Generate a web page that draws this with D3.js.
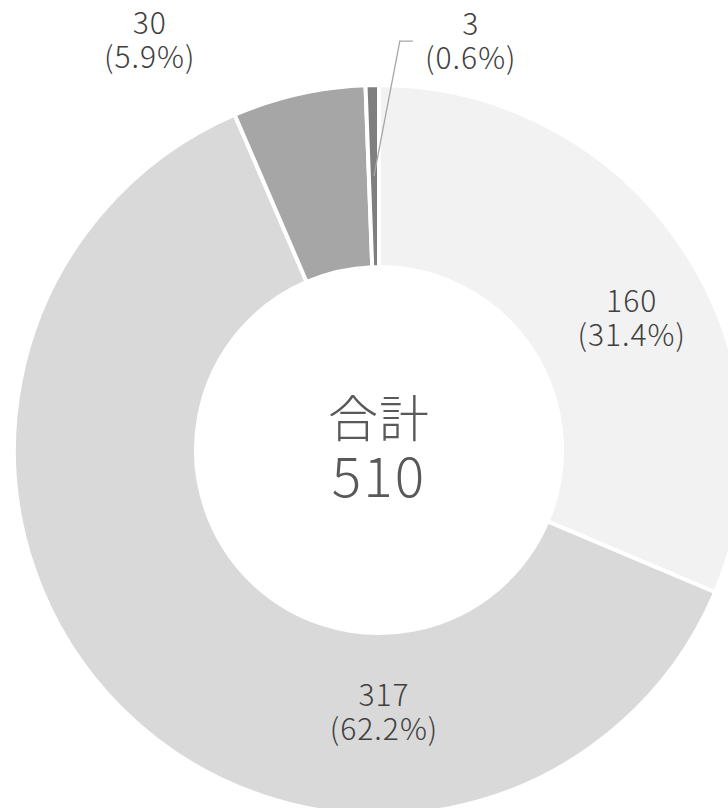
<!DOCTYPE html>
<html><head><meta charset="utf-8">
<script src="https://cdn.jsdelivr.net/npm/d3@7"></script>
<style>html,body{margin:0;padding:0;background:#fff;}svg{display:block;}</style>
</head><body>
<svg id="c" width="728" height="808"></svg>
<script>
const categories = ["A", "B", "C", "D"];
const values = [160, 317, 30, 3];
const colors = ["#f2f2f2", "#d9d9d9", "#a6a6a6", "#7f7f7f"];
const totalLabel = "合計";

const W = 728, H = 808;
const cx = 379, cy = 450;
const outerR = 365, innerR = 183;
const font = "'Noto Sans CJK JP', 'Noto Sans', sans-serif";
const labelColor = "#404040";
const centerColor = "#595959";

const total = d3.sum(values);
const svg = d3.select("#c");
const g = svg.append("g").attr("transform", `translate(${cx},${cy})`);

const pie = d3.pie().sort(null).value(d => d)(values);
const arc = d3.arc().innerRadius(innerR).outerRadius(outerR);
const midArc = d3.arc().innerRadius((innerR + outerR) / 2).outerRadius((innerR + outerR) / 2);

g.selectAll("path.slice").data(pie).join("path")
  .attr("class", "slice")
  .attr("d", arc)
  .attr("fill", (d, i) => colors[i])
  .attr("stroke", "#fff")
  .attr("stroke-width", 4)
  .attr("stroke-linejoin", "miter");

// label anchor placement (relative to center), polar: angle in degrees from top, radius
const labelPlace = [
  {ang: 62.45, r: 285},
  {ang: 178.9, r: 262},
  {ang: -29.2, r: 470},
  {ang: 12.66, r: 419}
];
const pct = v => "(" + (v / total * 100).toFixed(1) + "%)";

pie.forEach((d, i) => {
  const p = labelPlace[i];
  const a = p.ang * Math.PI / 180;
  const x = p.r * Math.sin(a), y = -p.r * Math.cos(a);
  const t = g.append("text")
    .attr("x", x).attr("y", y - 6)
    .attr("text-anchor", "middle")
    .attr("font-family", font).attr("font-size", 30).attr("font-weight", 300)
    .attr("letter-spacing", 1)
    .attr("fill", labelColor);
  t.append("tspan").attr("x", x).attr("dy", 0).text(values[i]);
  t.append("tspan").attr("x", x).attr("dy", 34).text(pct(values[i]));
});

// leader line for smallest slice
{
  const d = pie[3];
  const c = midArc.centroid(d);
  const p = labelPlace[3];
  const a = p.ang * Math.PI / 180;
  const lx = p.r * Math.sin(a), ly = -p.r * Math.cos(a);
  const ex = lx - 71, ey = ly;
  g.append("path")
    .attr("d", `M${c[0]},${c[1]}L${ex},${ey}L${ex + 13},${ey}`)
    .attr("fill", "none").attr("stroke", "#a6a6a6").attr("stroke-width", 1.3);
}

// center total
g.append("text").attr("x", 0).attr("y", -13)
  .attr("text-anchor", "middle").attr("font-family", font).attr("font-size", 50)
  .attr("font-weight", 300).attr("letter-spacing", 1)
  .attr("fill", centerColor).text(totalLabel);
g.append("text").attr("x", 0).attr("y", 47)
  .attr("text-anchor", "middle").attr("font-family", font).attr("font-size", 55)
  .attr("font-weight", 300).attr("letter-spacing", 2)
  .attr("fill", centerColor).text(total);
</script>
</body></html>
